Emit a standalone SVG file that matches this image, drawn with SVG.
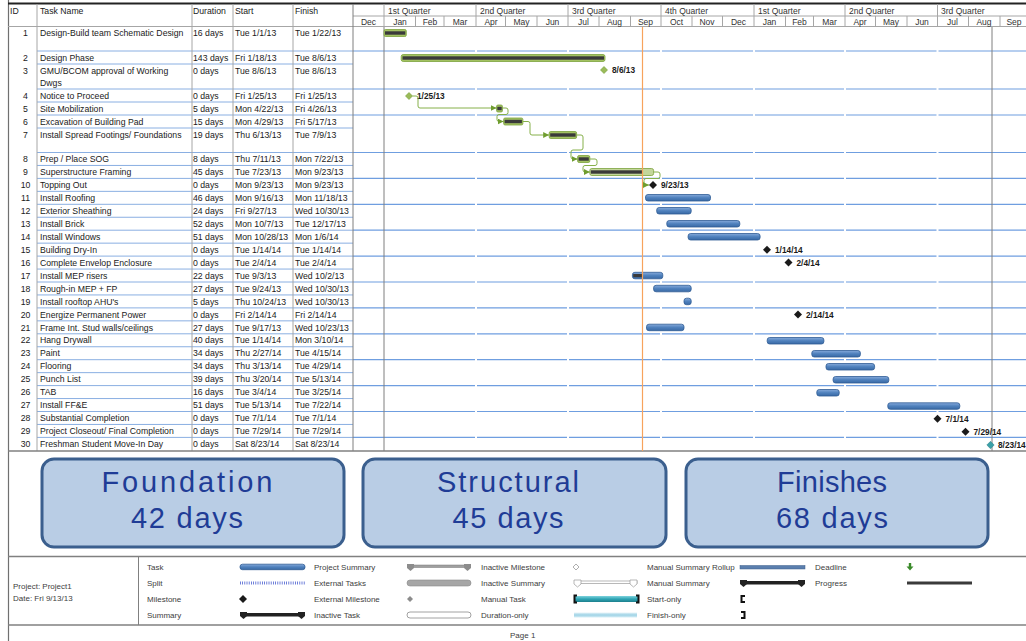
<svg xmlns="http://www.w3.org/2000/svg" width="1026" height="641" viewBox="0 0 1026 641">
<style>
text { font-family: "Liberation Sans", Arial, sans-serif; }
.t { font-size: 8.7px; fill: #1a1a1a; }
.id { font-size: 8.7px; fill: #1a1a1a; text-anchor: middle; }
.mo { font-size: 8.5px; fill: #333; text-anchor: middle; }
.q { font-size: 8.5px; fill: #333; }
.ml { font-size: 8.3px; font-weight: bold; fill: #1a1a1a; }
.bx { fill: #b9cde5; stroke: #3b5f8e; stroke-width: 3; }
.bt { font-family: "Liberation Sans", Arial, sans-serif; font-size: 29px; fill: #1f3c96; text-anchor: middle; }
.lg { font-size: 8px; fill: #404040; }
.rl { stroke: #8aafe2; stroke-width: 1; }
.cl { stroke: #6f9ee0; stroke-width: 1.2; }
.col { stroke: #a6a6a6; stroke-width: 1; }
.gap { stroke: #ffffff; stroke-width: 2; }
.blue { fill: url(#gb); stroke: #2f5c94; stroke-width: 0.8; }
.grn { fill: #a3c262; stroke: #7ba23c; stroke-width: 0.8; }
.prg { fill: #3a3a3a; }
.ms { fill: #1a1a1a; }
.gms { fill: #9bbb59; stroke: #6f9a30; stroke-width: 0.6; }
.lk { fill: none; stroke: #86b04a; stroke-width: 1; marker-end: url(#arr); }
</style>
<defs>
<linearGradient id="gb" x1="0" y1="0" x2="0" y2="1">
<stop offset="0" stop-color="#86aadb"/><stop offset="0.5" stop-color="#4f81bd"/><stop offset="1" stop-color="#3a6aa5"/>
</linearGradient>
<linearGradient id="gt" x1="0" y1="0" x2="0" y2="1">
<stop offset="0" stop-color="#7fd3dd"/><stop offset="0.5" stop-color="#2fa5b5"/><stop offset="1" stop-color="#1d7f8c"/>
</linearGradient>
<linearGradient id="gd" x1="0" y1="0" x2="0" y2="1">
<stop offset="0" stop-color="#e4f3f8"/><stop offset="0.5" stop-color="#9fd3e6"/><stop offset="1" stop-color="#d6eef6"/>
</linearGradient>
<path id="dia" d="M0,-4 L4,0 L0,4 L-4,0 Z"/>
<marker id="arr" viewBox="0 0 6 6" refX="6" refY="3" markerWidth="6" markerHeight="6" markerUnits="userSpaceOnUse" orient="auto">
<path d="M0,0 L6,3 L0,6 z" fill="#6f9d2f"/>
</marker>
</defs>

<rect x="0" y="0" width="1026" height="641" fill="#ffffff"/>

<!-- page border -->
<line x1="8.5" y1="0" x2="8.5" y2="641" stroke="#707070" stroke-width="1.2"/>

<!-- header -->
<g id="header">
<line x1="8" y1="3.5" x2="1026" y2="3.5" stroke="#222" stroke-width="2"/>
<line x1="8" y1="26.5" x2="1026" y2="26.5" stroke="#a6a6a6" stroke-width="1"/>
<line x1="353" y1="16" x2="1026" y2="16" stroke="#a6a6a6" stroke-width="1"/>
<text class="t" x="10" y="14">ID</text>
<text class="t" x="40" y="14">Task Name</text>
<text class="t" x="193" y="14">Duration</text>
<text class="t" x="235" y="14">Start</text>
<text class="t" x="295" y="14">Finish</text>
<g class="col">
<line x1="384" y1="4" x2="384" y2="27"/><line x1="476" y1="4" x2="476" y2="27"/><line x1="568" y1="4" x2="568" y2="27"/><line x1="661" y1="4" x2="661" y2="27"/><line x1="754" y1="4" x2="754" y2="27"/><line x1="845" y1="4" x2="845" y2="27"/><line x1="937.5" y1="4" x2="937.5" y2="27"/>
<line x1="415.5" y1="16" x2="415.5" y2="27"/><line x1="444" y1="16" x2="444" y2="27"/><line x1="505.5" y1="16" x2="505.5" y2="27"/><line x1="537" y1="16" x2="537" y2="27"/><line x1="599" y1="16" x2="599" y2="27"/><line x1="630.5" y1="16" x2="630.5" y2="27"/><line x1="692" y1="16" x2="692" y2="27"/><line x1="722.5" y1="16" x2="722.5" y2="27"/><line x1="785.5" y1="16" x2="785.5" y2="27"/><line x1="813.5" y1="16" x2="813.5" y2="27"/><line x1="875.5" y1="16" x2="875.5" y2="27"/><line x1="907" y1="16" x2="907" y2="27"/><line x1="968.5" y1="16" x2="968.5" y2="27"/><line x1="1000" y1="16" x2="1000" y2="27"/>
</g>
<text class="q" x="388" y="14">1st Quarter</text>
<text class="q" x="480" y="14">2nd Quarter</text>
<text class="q" x="572" y="14">3rd Quarter</text>
<text class="q" x="665" y="14">4th Quarter</text>
<text class="q" x="758" y="14">1st Quarter</text>
<text class="q" x="849" y="14">2nd Quarter</text>
<text class="q" x="941" y="14">3rd Quarter</text>
<text class="mo" x="368.5" y="24.5">Dec</text><text class="mo" x="400" y="24.5">Jan</text><text class="mo" x="430" y="24.5">Feb</text><text class="mo" x="460" y="24.5">Mar</text><text class="mo" x="491" y="24.5">Apr</text><text class="mo" x="521.5" y="24.5">May</text><text class="mo" x="552.5" y="24.5">Jun</text><text class="mo" x="583.5" y="24.5">Jul</text><text class="mo" x="614.5" y="24.5">Aug</text><text class="mo" x="645.5" y="24.5">Sep</text><text class="mo" x="676.5" y="24.5">Oct</text><text class="mo" x="707" y="24.5">Nov</text><text class="mo" x="738.5" y="24.5">Dec</text><text class="mo" x="769.5" y="24.5">Jan</text><text class="mo" x="799.5" y="24.5">Feb</text><text class="mo" x="829.5" y="24.5">Mar</text><text class="mo" x="860" y="24.5">Apr</text><text class="mo" x="891" y="24.5">May</text><text class="mo" x="922" y="24.5">Jun</text><text class="mo" x="952.5" y="24.5">Jul</text><text class="mo" x="984" y="24.5">Aug</text><text class="mo" x="1014" y="24.5">Sep</text>
</g>

<!-- grid -->
<g id="grid">
<g class="rl">
<line x1="37" y1="51" x2="353" y2="51"/><line x1="37" y1="64" x2="353" y2="64"/><line x1="37" y1="89" x2="353" y2="89"/><line x1="37" y1="102" x2="353" y2="102"/><line x1="37" y1="115" x2="353" y2="115"/><line x1="37" y1="128" x2="353" y2="128"/><line x1="37" y1="152.5" x2="353" y2="152.5"/>
<line x1="37" y1="165.45" x2="353" y2="165.45"/><line x1="37" y1="178.4" x2="353" y2="178.4"/><line x1="37" y1="191.35" x2="353" y2="191.35"/><line x1="37" y1="204.3" x2="353" y2="204.3"/><line x1="37" y1="217.25" x2="353" y2="217.25"/><line x1="37" y1="230.2" x2="353" y2="230.2"/><line x1="37" y1="243.15" x2="353" y2="243.15"/><line x1="37" y1="256.1" x2="353" y2="256.1"/><line x1="37" y1="269.05" x2="353" y2="269.05"/><line x1="37" y1="282" x2="353" y2="282"/><line x1="37" y1="294.95" x2="353" y2="294.95"/><line x1="37" y1="307.9" x2="353" y2="307.9"/><line x1="37" y1="320.85" x2="353" y2="320.85"/><line x1="37" y1="333.8" x2="353" y2="333.8"/><line x1="37" y1="346.75" x2="353" y2="346.75"/><line x1="37" y1="359.7" x2="353" y2="359.7"/><line x1="37" y1="372.65" x2="353" y2="372.65"/><line x1="37" y1="385.6" x2="353" y2="385.6"/><line x1="37" y1="398.55" x2="353" y2="398.55"/><line x1="37" y1="411.5" x2="353" y2="411.5"/><line x1="37" y1="424.45" x2="353" y2="424.45"/><line x1="37" y1="437.4" x2="353" y2="437.4"/>
</g>
<g class="cl">
<line x1="353" y1="51" x2="1026" y2="51"/><line x1="353" y1="89" x2="1026" y2="89"/><line x1="353" y1="115" x2="1026" y2="115"/><line x1="353" y1="152.5" x2="1026" y2="152.5"/><line x1="353" y1="178.4" x2="1026" y2="178.4"/><line x1="353" y1="204.3" x2="1026" y2="204.3"/><line x1="353" y1="230.2" x2="1026" y2="230.2"/><line x1="353" y1="256.1" x2="1026" y2="256.1"/><line x1="353" y1="282" x2="1026" y2="282"/><line x1="353" y1="307.9" x2="1026" y2="307.9"/><line x1="353" y1="333.8" x2="1026" y2="333.8"/><line x1="353" y1="359.7" x2="1026" y2="359.7"/><line x1="353" y1="385.6" x2="1026" y2="385.6"/><line x1="353" y1="411.5" x2="1026" y2="411.5"/><line x1="353" y1="437.4" x2="1026" y2="437.4"/>
</g>
<g class="gap">
<line x1="476" y1="28" x2="476" y2="450"/><line x1="568" y1="28" x2="568" y2="450"/><line x1="661" y1="28" x2="661" y2="450"/><line x1="754" y1="28" x2="754" y2="450"/><line x1="845" y1="28" x2="845" y2="450"/><line x1="937.5" y1="28" x2="937.5" y2="450"/>
</g>
<g class="col">
<line x1="37" y1="4" x2="37" y2="451"/><line x1="192" y1="4" x2="192" y2="451"/><line x1="233" y1="4" x2="233" y2="451"/><line x1="293" y1="4" x2="293" y2="451"/>
</g>
<line x1="353" y1="4" x2="353" y2="451" stroke="#7f7f7f" stroke-width="1"/>
<line x1="384" y1="27" x2="384" y2="451" stroke="#7f7f7f" stroke-width="1"/>
<line x1="992" y1="27" x2="992" y2="451" stroke="#7f7f7f" stroke-width="1"/>
<line x1="8" y1="451" x2="1026" y2="451" stroke="#808080" stroke-width="1.5"/>
</g>

<!-- tasks -->
<g id="task-1"><text class="id" x="25.5" y="36">1</text><text class="t" x="40" y="36">Design-Build team Schematic Design</text><text class="t" x="193" y="36">16 days</text><text class="t" x="235" y="36">Tue 1/1/13</text><text class="t" x="295" y="36">Tue 1/22/13</text>
<rect class="grn" x="384" y="29.5" width="22.3" height="7" rx="1.5"/><rect class="prg" x="385" y="31.3" width="20.3" height="3.4"/></g>
<g id="task-2"><text class="id" x="25.5" y="61">2</text><text class="t" x="40" y="61">Design Phase</text><text class="t" x="193" y="61">143 days</text><text class="t" x="235" y="61">Fri 1/18/13</text><text class="t" x="295" y="61">Tue 8/6/13</text>
<rect class="grn" x="401.2" y="54.5" width="203.8" height="7" rx="2"/><rect class="prg" x="402.5" y="56.3" width="201.5" height="3.4"/></g>
<g id="task-3"><text class="id" x="25.5" y="74">3</text><text class="t" x="40" y="74">GMU/BCOM approval of Working</text><text class="t" x="40" y="85.5">Dwgs</text><text class="t" x="193" y="74">0 days</text><text class="t" x="235" y="74">Tue 8/6/13</text><text class="t" x="295" y="74">Tue 8/6/13</text>
<path class="gms" d="M604,66.5 L607.5,70 L604,73.5 L600.5,70 Z"/><text class="ml" x="612" y="73">8/6/13</text></g>
<g id="task-4"><text class="id" x="25.5" y="99">4</text><text class="t" x="40" y="99">Notice to Proceed</text><text class="t" x="193" y="99">0 days</text><text class="t" x="235" y="99">Fri 1/25/13</text><text class="t" x="295" y="99">Fri 1/25/13</text>
<path class="gms" d="M409,92.5 L412.5,96 L409,99.5 L405.5,96 Z"/><text class="ml" x="417" y="99">1/25/13</text></g>
<g id="task-5"><text class="id" x="25.5" y="111.5">5</text><text class="t" x="40" y="111.5">Site Mobilization</text><text class="t" x="193" y="111.5">5 days</text><text class="t" x="235" y="111.5">Mon 4/22/13</text><text class="t" x="295" y="111.5">Fri 4/26/13</text>
<rect class="grn" x="496.5" y="105" width="6" height="7" rx="1.5"/><rect class="prg" x="497.3" y="106.8" width="4.4" height="3.4"/></g>
<g id="task-6"><text class="id" x="25.5" y="124.5">6</text><text class="t" x="40" y="124.5">Excavation of Building Pad</text><text class="t" x="193" y="124.5">15 days</text><text class="t" x="235" y="124.5">Mon 4/29/13</text><text class="t" x="295" y="124.5">Fri 5/17/13</text>
<rect class="grn" x="503.6" y="118" width="19.3" height="7" rx="1.5"/><rect class="prg" x="504.6" y="119.8" width="17.3" height="3.4"/></g>
<g id="task-7"><text class="id" x="25.5" y="138">7</text><text class="t" x="40" y="138">Install Spread Footings/ Foundations</text><text class="t" x="193" y="138">19 days</text><text class="t" x="235" y="138">Thu 6/13/13</text><text class="t" x="295" y="138">Tue 7/9/13</text>
<rect class="grn" x="549.2" y="131.5" width="27.4" height="7" rx="1.5"/><rect class="prg" x="550.2" y="133.3" width="25.4" height="3.4"/></g>
<g id="task-8"><text class="id" x="25.5" y="162">8</text><text class="t" x="40" y="162">Prep / Place SOG</text><text class="t" x="193" y="162">8 days</text><text class="t" x="235" y="162">Thu 7/11/13</text><text class="t" x="295" y="162">Mon 7/22/13</text>
<rect class="grn" x="577.6" y="155.5" width="12.2" height="7" rx="1.5"/><rect class="prg" x="578.6" y="157.3" width="10.2" height="3.4"/></g>
<g id="task-9"><text class="id" x="25.5" y="175">9</text><text class="t" x="40" y="175">Superstructure Framing</text><text class="t" x="193" y="175">45 days</text><text class="t" x="235" y="175">Tue 7/23/13</text><text class="t" x="295" y="175">Mon 9/23/13</text>
<rect class="grn" x="589.8" y="168.5" width="63.8" height="7" rx="2" style="fill:#c3d69b"/><rect class="prg" x="590.8" y="170.3" width="52" height="3.4"/></g>
<g id="task-10"><text class="id" x="25.5" y="188">10</text><text class="t" x="40" y="188">Topping Out</text><text class="t" x="193" y="188">0 days</text><text class="t" x="235" y="188">Mon 9/23/13</text><text class="t" x="295" y="188">Mon 9/23/13</text>
<use href="#dia" class="ms" x="653" y="185"/><text class="ml" x="661" y="188">9/23/13</text></g>
<g id="task-11"><text class="id" x="25.5" y="201">11</text><text class="t" x="40" y="201">Install Roofing</text><text class="t" x="193" y="201">46 days</text><text class="t" x="235" y="201">Mon 9/16/13</text><text class="t" x="295" y="201">Mon 11/18/13</text>
<rect class="blue" x="645.5" y="194.5" width="65" height="6.5" rx="2.5"/></g>
<g id="task-12"><text class="id" x="25.5" y="214">12</text><text class="t" x="40" y="214">Exterior Sheathing</text><text class="t" x="193" y="214">24 days</text><text class="t" x="235" y="214">Fri 9/27/13</text><text class="t" x="295" y="214">Wed 10/30/13</text>
<rect class="blue" x="656.7" y="207.5" width="34.5" height="6.5" rx="2.5"/></g>
<g id="task-13"><text class="id" x="25.5" y="227">13</text><text class="t" x="40" y="227">Install Brick</text><text class="t" x="193" y="227">52 days</text><text class="t" x="235" y="227">Mon 10/7/13</text><text class="t" x="295" y="227">Tue 12/17/13</text>
<rect class="blue" x="666.8" y="220.5" width="73" height="6.5" rx="2.5"/></g>
<g id="task-14"><text class="id" x="25.5" y="240">14</text><text class="t" x="40" y="240">Install Windows</text><text class="t" x="193" y="240">51 days</text><text class="t" x="235" y="240">Mon 10/28/13</text><text class="t" x="295" y="240">Mon 1/6/14</text>
<rect class="blue" x="688.1" y="233.5" width="72" height="6.5" rx="2.5"/></g>
<g id="task-15"><text class="id" x="25.5" y="253">15</text><text class="t" x="40" y="253">Building Dry-In</text><text class="t" x="193" y="253">0 days</text><text class="t" x="235" y="253">Tue 1/14/14</text><text class="t" x="295" y="253">Tue 1/14/14</text>
<use href="#dia" class="ms" x="767" y="249.7"/><text class="ml" x="775" y="252.7">1/14/14</text></g>
<g id="task-16"><text class="id" x="25.5" y="266">16</text><text class="t" x="40" y="266">Complete Envelop Enclosure</text><text class="t" x="193" y="266">0 days</text><text class="t" x="235" y="266">Tue 2/4/14</text><text class="t" x="295" y="266">Tue 2/4/14</text>
<use href="#dia" class="ms" x="788.5" y="262.6"/><text class="ml" x="796.5" y="265.6">2/4/14</text></g>
<g id="task-17"><text class="id" x="25.5" y="278.5">17</text><text class="t" x="40" y="278.5">Install MEP risers</text><text class="t" x="193" y="278.5">22 days</text><text class="t" x="235" y="278.5">Tue 9/3/13</text><text class="t" x="295" y="278.5">Wed 10/2/13</text>
<rect class="blue" x="632.4" y="272.3" width="30.4" height="6.5" rx="2.5"/><rect class="prg" x="633.2" y="274" width="8.8" height="3.2"/></g>
<g id="task-18"><text class="id" x="25.5" y="291.5">18</text><text class="t" x="40" y="291.5">Rough-in MEP + FP</text><text class="t" x="193" y="291.5">27 days</text><text class="t" x="235" y="291.5">Tue 9/24/13</text><text class="t" x="295" y="291.5">Wed 10/30/13</text>
<rect class="blue" x="653.6" y="285.3" width="37.6" height="6.5" rx="2.5"/></g>
<g id="task-19"><text class="id" x="25.5" y="304.5">19</text><text class="t" x="40" y="304.5">Install rooftop AHU's</text><text class="t" x="193" y="304.5">5 days</text><text class="t" x="235" y="304.5">Thu 10/24/13</text><text class="t" x="295" y="304.5">Wed 10/30/13</text>
<rect class="blue" x="684" y="298.2" width="7.2" height="6.5" rx="2.5"/></g>
<g id="task-20"><text class="id" x="25.5" y="317.5">20</text><text class="t" x="40" y="317.5">Energize Permanent Power</text><text class="t" x="193" y="317.5">0 days</text><text class="t" x="235" y="317.5">Fri 2/14/14</text><text class="t" x="295" y="317.5">Fri 2/14/14</text>
<use href="#dia" class="ms" x="798" y="314.5"/><text class="ml" x="806" y="317.5">2/14/14</text></g>
<g id="task-21"><text class="id" x="25.5" y="330.5">21</text><text class="t" x="40" y="330.5">Frame Int. Stud walls/ceilings</text><text class="t" x="193" y="330.5">27 days</text><text class="t" x="235" y="330.5">Tue 9/17/13</text><text class="t" x="295" y="330.5">Wed 10/23/13</text>
<rect class="blue" x="646.5" y="324.2" width="37.5" height="6.5" rx="2.5"/></g>
<g id="task-22"><text class="id" x="25.5" y="343.3">22</text><text class="t" x="40" y="343.3">Hang Drywall</text><text class="t" x="193" y="343.3">40 days</text><text class="t" x="235" y="343.3">Tue 1/14/14</text><text class="t" x="295" y="343.3">Mon 3/10/14</text>
<rect class="blue" x="767.2" y="337.5" width="56.7" height="6.5" rx="2.5"/></g>
<g id="task-23"><text class="id" x="25.5" y="356.3">23</text><text class="t" x="40" y="356.3">Paint</text><text class="t" x="193" y="356.3">34 days</text><text class="t" x="235" y="356.3">Thu 2/27/14</text><text class="t" x="295" y="356.3">Tue 4/15/14</text>
<rect class="blue" x="811.8" y="350.5" width="48.6" height="6.5" rx="2.5"/></g>
<g id="task-24"><text class="id" x="25.5" y="369.2">24</text><text class="t" x="40" y="369.2">Flooring</text><text class="t" x="193" y="369.2">34 days</text><text class="t" x="235" y="369.2">Thu 3/13/14</text><text class="t" x="295" y="369.2">Tue 4/29/14</text>
<rect class="blue" x="826" y="363.5" width="48.6" height="6.5" rx="2.5"/></g>
<g id="task-25"><text class="id" x="25.5" y="382.2">25</text><text class="t" x="40" y="382.2">Punch List</text><text class="t" x="193" y="382.2">39 days</text><text class="t" x="235" y="382.2">Thu 3/20/14</text><text class="t" x="295" y="382.2">Tue 5/13/14</text>
<rect class="blue" x="833.1" y="376.5" width="55.7" height="6.5" rx="2.5"/></g>
<g id="task-26"><text class="id" x="25.5" y="395.1">26</text><text class="t" x="40" y="395.1">TAB</text><text class="t" x="193" y="395.1">16 days</text><text class="t" x="235" y="395.1">Tue 3/4/14</text><text class="t" x="295" y="395.1">Tue 3/25/14</text>
<rect class="blue" x="816.8" y="389.5" width="22.4" height="6.5" rx="2.5"/></g>
<g id="task-27"><text class="id" x="25.5" y="408">27</text><text class="t" x="40" y="408">Install FF&amp;E</text><text class="t" x="193" y="408">51 days</text><text class="t" x="235" y="408">Tue 5/13/14</text><text class="t" x="295" y="408">Tue 7/22/14</text>
<rect class="blue" x="887.8" y="402.8" width="72" height="6.5" rx="2.5"/></g>
<g id="task-28"><text class="id" x="25.5" y="421">28</text><text class="t" x="40" y="421">Substantial Completion</text><text class="t" x="193" y="421">0 days</text><text class="t" x="235" y="421">Tue 7/1/14</text><text class="t" x="295" y="421">Tue 7/1/14</text>
<use href="#dia" class="ms" x="937.5" y="418.8"/><text class="ml" x="945.5" y="421.8">7/1/14</text></g>
<g id="task-29"><text class="id" x="25.5" y="434">29</text><text class="t" x="40" y="434">Project Closeout/ Final Completion</text><text class="t" x="193" y="434">0 days</text><text class="t" x="235" y="434">Tue 7/29/14</text><text class="t" x="295" y="434">Tue 7/29/14</text>
<use href="#dia" class="ms" x="965.5" y="431.8"/><text class="ml" x="973.5" y="434.8">7/29/14</text></g>
<g id="task-30"><text class="id" x="25.5" y="447">30</text><text class="t" x="40" y="447">Freshman Student Move-In Day</text><text class="t" x="193" y="447">0 days</text><text class="t" x="235" y="447">Sat 8/23/14</text><text class="t" x="295" y="447">Sat 8/23/14</text>
<path d="M990.5,441.3 L994.2,445 L990.5,448.7 L986.8,445 Z" fill="#3aa0a8" stroke="#2a7d85" stroke-width="0.5"/><text class="ml" x="998" y="448">8/23/14</text></g>

<!-- status date line -->
<line x1="642.5" y1="27" x2="642.5" y2="451" stroke="#f7a35c" stroke-width="1.2"/>

<!-- connectors -->
<g id="connectors">
<path class="lk" d="M412.5,96 H416 Q418,96 418,98 V106 Q418,108 420,108 H496.5"/>
<path class="lk" d="M502.5,108 H506 Q508,108 508,110 V112.5 Q508,114.5 506,114.5 H499 Q497,114.5 497,116.5 V119.5 Q497,121.5 499,121.5 H503.6"/>
<path class="lk" d="M523,121.5 H528 Q530,121.5 530,123.5 V133 Q530,135 532,135 H549.2"/>
<path class="lk" d="M576.6,135 H581 Q583,135 583,137 V148 Q583,150 581,150 H573 Q571,150 571,152 V157 Q571,159 573,159 H577.6"/>
<path class="lk" d="M589.8,159 H595 Q597,159 597,161 V163.5 Q597,165.5 595,165.5 H585 Q583,165.5 583,167.5 V170 Q583,172 585,172 H589.8"/>
<path class="lk" d="M653.6,172 H658 Q660,172 660,174 V176.5 Q660,178.5 658,178.5 H646 Q644,178.5 644,180.5 V183 Q644,185 646,185 H649"/>
</g>

<!-- phase boxes -->
<g id="box-foundation">
<rect class="bx" x="42" y="459" width="302" height="88" rx="12"/>
<text class="bt" x="187" y="492" textLength="171">Foundation</text>
<text class="bt" x="187" y="528" textLength="112">42 days</text>
</g>
<g id="box-structural">
<rect class="bx" x="363" y="459" width="303" height="88" rx="12"/>
<text class="bt" x="508" y="492" textLength="142">Structural</text>
<text class="bt" x="508" y="528" textLength="111">45 days</text>
</g>
<g id="box-finishes">
<rect class="bx" x="686" y="459" width="302" height="88" rx="12"/>
<text class="bt" x="832" y="492" textLength="110">Finishes</text>
<text class="bt" x="832" y="528" textLength="112">68 days</text>
</g>

<!-- legend -->
<g id="legend">
<line x1="8" y1="556.5" x2="1026" y2="556.5" stroke="#808080" stroke-width="1.5"/>
<line x1="8" y1="625" x2="1026" y2="625" stroke="#808080" stroke-width="1.5"/>
<line x1="138.5" y1="556" x2="138.5" y2="625" stroke="#808080" stroke-width="1"/>
<text class="lg" x="13" y="589">Project: Project1</text>
<text class="lg" x="13" y="601">Date: Fri 9/13/13</text>

<text class="lg" x="147" y="570">Task</text>
<text class="lg" x="147" y="586">Split</text>
<text class="lg" x="147" y="602">Milestone</text>
<text class="lg" x="147" y="618">Summary</text>
<rect class="blue" x="240" y="564.2" width="65" height="5.5" rx="2.5"/>
<line x1="240" y1="583" x2="305" y2="583" stroke="#4a5fd0" stroke-width="3" stroke-dasharray="0.8 1.4"/>
<use href="#dia" class="ms" x="243" y="599"/>
<g fill="#222"><rect x="241" y="613" width="63" height="3.5"/><path d="M240,612 H247 V616 L243.5,619 L240,616 Z"/><path d="M298,612 H305 V616 L301.5,619 L298,616 Z"/></g>

<text class="lg" x="314" y="570">Project Summary</text>
<text class="lg" x="314" y="586">External Tasks</text>
<text class="lg" x="314" y="602">External Milestone</text>
<text class="lg" x="314" y="618">Inactive Task</text>
<g fill="#8c8c8c"><rect x="408" y="565" width="62" height="2.5" fill="#a0a0a0" stroke="#777" stroke-width="0.5"/><path d="M407,564 H414 V568 L410.5,571 L407,568 Z"/><path d="M464,564 H471 V568 L467.5,571 L464,568 Z"/></g>
<rect x="407" y="580" width="64" height="6" rx="3" fill="#a6a6a6" stroke="#8a8a8a" stroke-width="0.6"/>
<path d="M410,596 L413,599 L410,602 L407,599 Z" fill="#8c8c8c"/>
<rect x="407" y="612" width="64" height="6" rx="3" fill="#ffffff" stroke="#8a8a8a" stroke-width="0.8"/>

<text class="lg" x="481" y="570">Inactive Milestone</text>
<text class="lg" x="481" y="586">Inactive Summary</text>
<text class="lg" x="481" y="602">Manual Task</text>
<text class="lg" x="481" y="618">Duration-only</text>
<path d="M576,564 L579,567 L576,570 L573,567 Z" fill="#ffffff" stroke="#9a9a9a" stroke-width="0.8"/>
<g fill="#ffffff" stroke="#9a9a9a" stroke-width="0.7"><rect x="575" y="581" width="62" height="2.5"/><path d="M574,580 H581 V584 L577.5,587 L574,584 Z"/><path d="M630,580 H637 V584 L633.5,587 L630,584 Z"/></g>
<rect x="574" y="596" width="65" height="6" fill="url(#gt)"/>
<path d="M577,595.5 H574.5 V602.5 H577" fill="none" stroke="#111" stroke-width="2"/>
<path d="M636,595.5 H638.5 V602.5 H636" fill="none" stroke="#111" stroke-width="2"/>
<rect x="574" y="612.5" width="63" height="5" fill="url(#gd)"/>

<text class="lg" x="647" y="570">Manual Summary Rollup</text>
<text class="lg" x="647" y="586">Manual Summary</text>
<text class="lg" x="647" y="602">Start-only</text>
<text class="lg" x="647" y="618">Finish-only</text>
<rect x="740" y="565.5" width="65" height="3.5" fill="#5b7fae" stroke="#3d5f8a" stroke-width="0.5"/>
<g fill="#222"><rect x="741" y="581" width="63" height="3.5"/><path d="M740,580 H747 V584 L743.5,587 L740,584 Z"/><path d="M798,580 H805 V584 L801.5,587 L798,584 Z"/></g>
<path d="M745,596 H741.5 V602 H745" fill="none" stroke="#111" stroke-width="2"/>
<path d="M741,612 H744.5 V618 H741" fill="none" stroke="#111" stroke-width="2"/>

<text class="lg" x="815" y="570">Deadline</text>
<text class="lg" x="815" y="586">Progress</text>
<path d="M908.8,563 H911.2 V566.5 H913.5 L910,570.5 L906.5,566.5 H908.8 Z" fill="#3a8a2a"/>
<rect x="907" y="581.5" width="65" height="3" fill="#3a3a3a"/>

<text class="lg" x="510" y="638">Page 1</text>
</g>
</svg>
